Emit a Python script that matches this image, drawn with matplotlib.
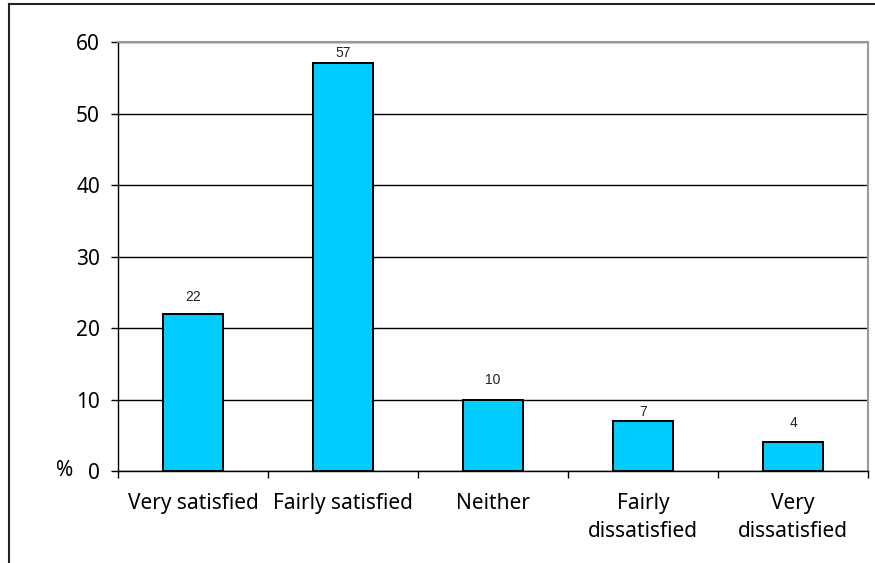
import matplotlib
matplotlib.use("Agg")
import matplotlib.pyplot as plt
from matplotlib.lines import Line2D
from matplotlib.transforms import blended_transform_factory

categories = ["Very satisfied", "Fairly satisfied", "Neither",
              "Fairly\ndissatisfied", "Very\ndissatisfied"]
percent = [22, 57, 10, 7, 4]
y_ticks = [0, 10, 20, 30, 40, 50, 60]

# gap (in pixels) between each bar top and its value label
label_gap_px = [13, 6, 15, 5, 15]

AXIS_FONT = "Noto Sans"
VALUE_FONT = "Liberation Sans"

fig = plt.figure(figsize=(8.75, 5.63), dpi=100)
ax = fig.add_axes([118 / 875, 1 - 471 / 563, 750 / 875, 429 / 563])

x = list(range(len(categories)))
ax.bar(x, percent, width=0.4, color="#00CCFF", edgecolor="black",
       linewidth=1.4, zorder=3)

for xi, v, gap in zip(x, percent, label_gap_px):
    ax.annotate(str(v), (xi, v), xytext=(0, gap * 0.72),
                textcoords="offset points", ha="center", va="baseline",
                fontsize=10, family=VALUE_FONT, color="#222222")

ax.set_xlim(-0.5, len(categories) - 0.5)
ax.set_ylim(0, 60)
ax.set_yticks(y_ticks)
ax.set_yticklabels([str(t) for t in y_ticks], fontsize=15, family=AXIS_FONT)
ax.yaxis.grid(True, color="black", linewidth=1.0, zorder=0)

# category boundaries carry the tick marks, labels sit centred under bars
ax.set_xticks([i + 0.5 for i in range(-1, len(categories))])
ax.set_xticklabels([])
ax.set_xticks(x, minor=True)
ax.set_xticklabels(categories, minor=True, fontsize=15, family=AXIS_FONT,
                   linespacing=1.42)
ax.tick_params(axis="x", which="minor", length=0, pad=16)
ax.tick_params(axis="x", which="major", length=5, width=1, direction="out")
ax.tick_params(axis="y", length=5, width=1, direction="out", pad=8)

for side in ("top", "right"):
    ax.spines[side].set_color("#999999")
    ax.spines[side].set_linewidth(1.5)
for side in ("left", "bottom"):
    ax.spines[side].set_color("black")
    ax.spines[side].set_linewidth(1.0)

trans = blended_transform_factory(fig.transFigure, ax.transData)
ax.text(65 / 875, 0, "%", transform=trans, ha="center", va="center",
        fontsize=15, family=AXIS_FONT)

# outer frame around the chart
fig.add_artist(Line2D([9 / 875, 9 / 875], [0, 1 - 4 / 563], color="#222222",
                      linewidth=1.5, transform=fig.transFigure))
fig.add_artist(Line2D([9 / 875, 1], [1 - 4 / 563, 1 - 4 / 563], color="#222222",
                      linewidth=1.5, transform=fig.transFigure))

fig.savefig("out.png", dpi=100)
